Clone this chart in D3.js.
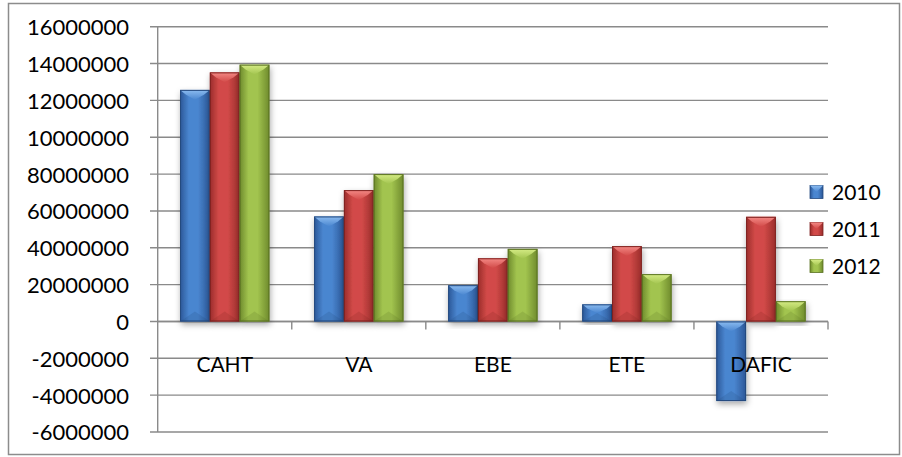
<!DOCTYPE html>
<html>
<head>
<meta charset="utf-8">
<script src="https://cdn.jsdelivr.net/npm/d3@7"></script>
<style>
  body { margin: 0; background: #fff; }
  svg text { font-family: Lato, "Open Sans", sans-serif; fill: #000; }
</style>
</head>
<body>
<svg id="chart" width="902" height="457"></svg>
<script>
// Data
const categories = ['CAHT', 'VA', 'EBE', 'ETE', 'DAFIC'];
const years = ['2010', '2011', '2012'];
const values2010 = [12570000, 5700000, 1970000, 930000, -4320000];
const values2011 = [13520000, 7130000, 3430000, 4090000, 5680000];
const values2012 = [13940000, 8000000, 3940000, 2570000, 1100000];
const tickValues = [16000000, 14000000, 12000000, 10000000, 8000000, 6000000, 4000000, 2000000, 0, -2000000, -4000000, -6000000];
const tickLabels = ['16000000', '14000000', '12000000', '10000000', '80000000', '60000000', '40000000', '20000000', '0', '-2000000', '-4000000', '-6000000'];

const series = [values2010, values2011, values2012];

// Colours for each year: edge, centre, highlight
const palette = {
    '2010': { edge: '#2b5797', mid: '#4a86d0', light: '#8cbcf0', dark: '#24497e' },
    '2011': { edge: '#9a2d2b', mid: '#d24a48', light: '#f48a86', dark: '#7e2220' },
    '2012': { edge: '#6e8a2c', mid: '#a2c44f', light: '#d6ec86', dark: '#5a7222' },
};

const svg = d3.select('#chart');
const defs = svg.append('defs');

// Soft shadow under bars
const shadow = defs.append('filter').attr('id', 'shadow')
    .attr('x', '-30%').attr('y', '-10%').attr('width', '160%').attr('height', '130%');
shadow.append('feDropShadow')
    .attr('dx', 1).attr('dy', 3).attr('stdDeviation', 3)
    .attr('flood-color', '#000').attr('flood-opacity', 0.35);

// Gradients per year
years.forEach((y) => {
    let c = palette[y];
    let g = defs.append('linearGradient').attr('id', 'side-' + y)
        .attr('x1', 0).attr('x2', 1).attr('y1', 0).attr('y2', 0);
    g.selectAll('stop')
        .data([[0, c.edge], [0.3, c.mid], [0.6, c.mid], [1, c.edge]])
        .enter().append('stop')
        .attr('offset', (d) => d[0]).attr('stop-color', (d) => d[1]);

    let t = defs.append('linearGradient').attr('id', 'top-' + y)
        .attr('x1', 0).attr('x2', 0).attr('y1', 0).attr('y2', 1);
    t.selectAll('stop')
        .data([[0, c.light], [1, c.mid]])
        .enter().append('stop')
        .attr('offset', (d) => d[0]).attr('stop-color', (d) => d[1]);
});

// Outer frame
svg.append('rect')
    .attr('x', 8.5).attr('y', 3.5).attr('width', 891).attr('height', 451)
    .attr('fill', 'none').attr('stroke', '#8c8c8c').attr('stroke-width', 1.5);

// Scales
let yScale = d3.scaleLinear().domain([-6000000, 16000000]).range([432, 26.7]);
let x0 = d3.scaleBand().domain(categories).range([157.7, 828]).paddingInner(0).paddingOuter(0);
let x1 = d3.scaleBand().domain(years).range([0, x0.bandwidth()]).paddingInner(0).paddingOuter(0.75);

const plotLeft = 157.7, plotRight = 828;

// Grid lines
svg.append('g').selectAll('line')
    .data(tickValues)
    .enter().append('line')
    .attr('x1', 150).attr('x2', plotRight)
    .attr('y1', (d) => yScale(d)).attr('y2', (d) => yScale(d))
    .attr('stroke', '#8a8a8a').attr('stroke-width', 1.4);

// Y axis with the labels as printed
let yAxis = d3.axisLeft(yScale)
    .tickValues(tickValues)
    .tickFormat((d, i) => tickLabels[i])
    .tickSize(0).tickPadding(0);
let yg = svg.append('g').attr('transform', 'translate(129,0)').call(yAxis);
yg.select('.domain').remove();
yg.selectAll('text')
    .attr('font-size', 22)
    .attr('dy', '0.36em')
    .style('font-family', 'Lato, sans-serif');

svg.append('line')
    .attr('x1', plotLeft).attr('x2', plotLeft)
    .attr('y1', yScale(16000000)).attr('y2', yScale(-6000000))
    .attr('stroke', '#8a8a8a').attr('stroke-width', 1.4);

// Category axis at zero
let y0 = yScale(0);
svg.append('line')
    .attr('x1', plotLeft).attr('x2', plotRight)
    .attr('y1', y0).attr('y2', y0)
    .attr('stroke', '#8a8a8a').attr('stroke-width', 1.6);
svg.append('g').selectAll('line')
    .data(categories)
    .enter().append('line')
    .attr('x1', (d) => x0(d) + x0.bandwidth()).attr('x2', (d) => x0(d) + x0.bandwidth())
    .attr('y1', y0).attr('y2', y0 + 8)
    .attr('stroke', '#8a8a8a').attr('stroke-width', 1.4);

// Bars
let barData = [];
categories.forEach((cat, ci) => {
    years.forEach((yr, si) => {
        let v = series[si][ci];
        let x = x0(cat) + x1(yr);
        let top = yScale(Math.max(0, v));
        let bottom = yScale(Math.min(0, v));
        barData.push({ cat: cat, year: yr, x: x, w: x1.bandwidth(), top: top, h: bottom - top });
    });
});

let bars = svg.append('g').selectAll('g')
    .data(barData)
    .enter().append('g');

bars.append('rect')
    .attr('x', (d) => d.x).attr('y', (d) => d.top)
    .attr('width', (d) => d.w).attr('height', (d) => d.h)
    .attr('fill', (d) => 'url(#side-' + d.year + ')')
    .attr('filter', 'url(#shadow)');

// Top bevel highlight, a triangle pointing down
bars.append('path')
    .attr('d', (d) => {
        let dep = Math.min(d.w / 3, d.h / 2);
        return 'M' + d.x + ',' + d.top + 'L' + (d.x + d.w) + ',' + d.top +
            'L' + (d.x + d.w - dep * 0.6) + ',' + (d.top + dep * 0.5) +
            'L' + (d.x + d.w / 2) + ',' + (d.top + dep) +
            'L' + (d.x + dep * 0.6) + ',' + (d.top + dep * 0.5) + 'Z';
    })
    .attr('fill', (d) => 'url(#top-' + d.year + ')');

// Bottom bevel, a little darker
bars.append('path')
    .attr('d', (d) => {
        let dep = Math.min(d.w / 3, d.h / 2);
        let b = d.top + d.h;
        return 'M' + d.x + ',' + b + 'L' + (d.x + d.w) + ',' + b +
            'L' + (d.x + d.w / 2) + ',' + (b - dep) + 'Z';
    })
    .attr('fill', (d) => palette[d.year].dark)
    .attr('opacity', 0.2);

bars.append('rect')
    .attr('x', (d) => d.x + 0.5).attr('y', (d) => d.top + 0.5)
    .attr('width', (d) => d.w - 1).attr('height', (d) => d.h - 1)
    .attr('fill', 'none')
    .attr('stroke', (d) => palette[d.year].dark)
    .attr('stroke-width', 1);

// Category labels
svg.append('g').selectAll('text')
    .data(categories)
    .enter().append('text')
    .attr('x', (d) => x0(d) + x0.bandwidth() / 2)
    .attr('y', 372)
    .attr('text-anchor', 'middle')
    .attr('font-size', 21)
    .text((d) => d);

// Legend
let legend = svg.append('g').selectAll('g')
    .data(years)
    .enter().append('g')
    .attr('transform', (d, i) => 'translate(810,' + (192 + i * 37) + ')');

legend.append('rect')
    .attr('x', 0).attr('y', -6.5).attr('width', 13).attr('height', 13)
    .attr('fill', (d) => 'url(#side-' + d + ')')
    .attr('stroke', (d) => palette[d].dark).attr('stroke-width', 0.8);
legend.append('path')
    .attr('d', 'M0,-6.5L13,-6.5L6.5,0Z')
    .attr('fill', (d) => 'url(#top-' + d + ')');
legend.append('text')
    .attr('x', 22).attr('y', 0).attr('dy', '0.36em')
    .attr('font-size', 21)
    .text((d) => d);
</script>
</body>
</html>
